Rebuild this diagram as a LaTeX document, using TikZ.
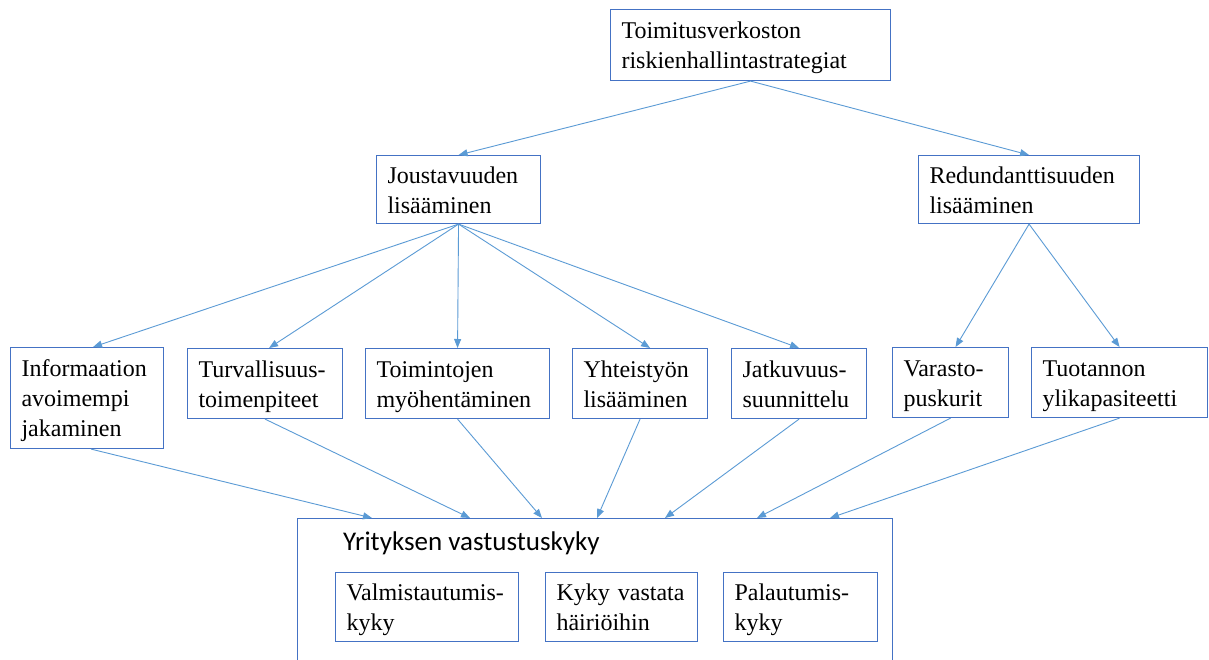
\documentclass[tikz,border=0pt]{standalone}
\usepackage{fontspec}
\setmainfont{Liberation Serif}
\newfontfamily\sansf{Carlito}
\usetikzlibrary{arrows.meta,calc}
\hyphenpenalty=10000
\exhyphenpenalty=10000
\definecolor{boxc}{HTML}{4472C4}
\definecolor{linec}{HTML}{5B9BD5}
\newcommand{\ms}{\rule{0pt}{25pt}}
\newcommand{\me}{\rule[-8pt]{0pt}{8pt}}
\tikzset{
  bx/.style={draw=boxc, line width=1.1pt, anchor=north west, inner xsep=11pt, inner ysep=0pt,
    align=left, font=\fontsize{24pt}{30pt}\selectfont},
  conn/.style={draw=linec, line width=0.9pt, -{Triangle[length=9pt,width=7pt]}},
}
\begin{document}
\begin{tikzpicture}[x=1pt,y=-1pt]
\useasboundingbox (0,0) rectangle (1209,659);
\fill[white] (0,0) rectangle (1209,659);
% nodes
\node[bx, text width=258pt, minimum height=71pt] (top) at (610,9) {\ms Toimitusverkoston\\riskienhallintastrategiat\me};
\node[bx, text width=142pt, minimum height=68pt] (jou) at (376,155) {\ms Joustavuuden\\lisääminen\me};
\node[bx, text width=199pt, minimum height=68pt] (red) at (918,155) {\ms Redundanttisuuden\\lisääminen\me};
\node[bx, text width=131pt, minimum height=101pt] (inf) at (10,347) {\ms Informaation\\avoimempi\\jakaminen\me};
\node[bx, text width=133pt, minimum height=70pt] (tur) at (187,348) {\ms Turvallisuus-\\toimenpiteet\me};
\node[bx, text width=162pt, minimum height=70pt] (toi) at (365,348) {\ms Toimintojen\\myöhentäminen\me};
\node[bx, text width=113pt, minimum height=70pt] (yht) at (572,348) {\ms Yhteistyön\\lisääminen\me};
\node[bx, text width=113pt, minimum height=70pt] (jat) at (731,348) {\ms Jatkuvuus-\\suunnittelu\me};
\node[bx, text width=94pt, minimum height=70pt] (var) at (892,347) {\ms Varasto-\\puskurit\me};
\node[bx, text width=154pt, minimum height=70pt] (tuo) at (1031,347) {\ms Tuotannon\\ylikapasiteetti\me};
\node[draw=boxc, line width=1.1pt, anchor=north west, minimum width=595pt, minimum height=170pt, inner sep=0pt] (res) at (297,518) {};
\node[anchor=west, inner sep=0pt, font=\sansf\fontsize{27pt}{32pt}\selectfont] (rest) at ($(res.north west)+(46,25)$) {Yrityksen vastustuskyky};
\node[bx, text width=161pt, minimum height=69pt] (val) at (335,572) {\ms Valmistautumis-\\kyky\me};
\node[bx, text width=130pt, minimum height=69pt] (kyk) at (545,572) {\ms Kyky~vastata\\häiriöihin\me};
\node[bx, text width=132pt, minimum height=69pt] (pal) at (723,572) {\ms Palautumis-\\kyky\me};
% connectors
\draw[conn] (top.south) -- (jou.north);
\draw[conn] (top.south) -- (red.north);
\draw[conn] (jou.south) -- ($(inf.north)+(6,0)$);
\draw[conn] (jou.south) -- ($(tur.north)+(4,0)$);
\draw[conn] (jou.south) -- (toi.north);
\draw[conn] (jou.south) -- ($(yht.north)+(10,0)$);
\draw[conn] (jou.south) -- (jat.north);
\draw[conn] (red.south) -- ($(var.north)+(5,0)$);
\draw[conn] (red.south) -- (tuo.north);
\draw[conn] ($(inf.south)+(4,0)$) -- ($(res.north west)+(75,0)$);
\draw[conn] (tur.south) -- ($(res.north west)+(173,0)$);
\draw[conn] (toi.south) -- ($(res.north west)+(245,0)$);
\draw[conn] (yht.south) -- ($(res.north west)+(300,0)$);
\draw[conn] (jat.south) -- ($(res.north west)+(368,0)$);
\draw[conn] (var.south) -- ($(res.north west)+(460,0)$);
\draw[conn] (tuo.south) -- ($(res.north west)+(533,0)$);
\end{tikzpicture}
\end{document}
